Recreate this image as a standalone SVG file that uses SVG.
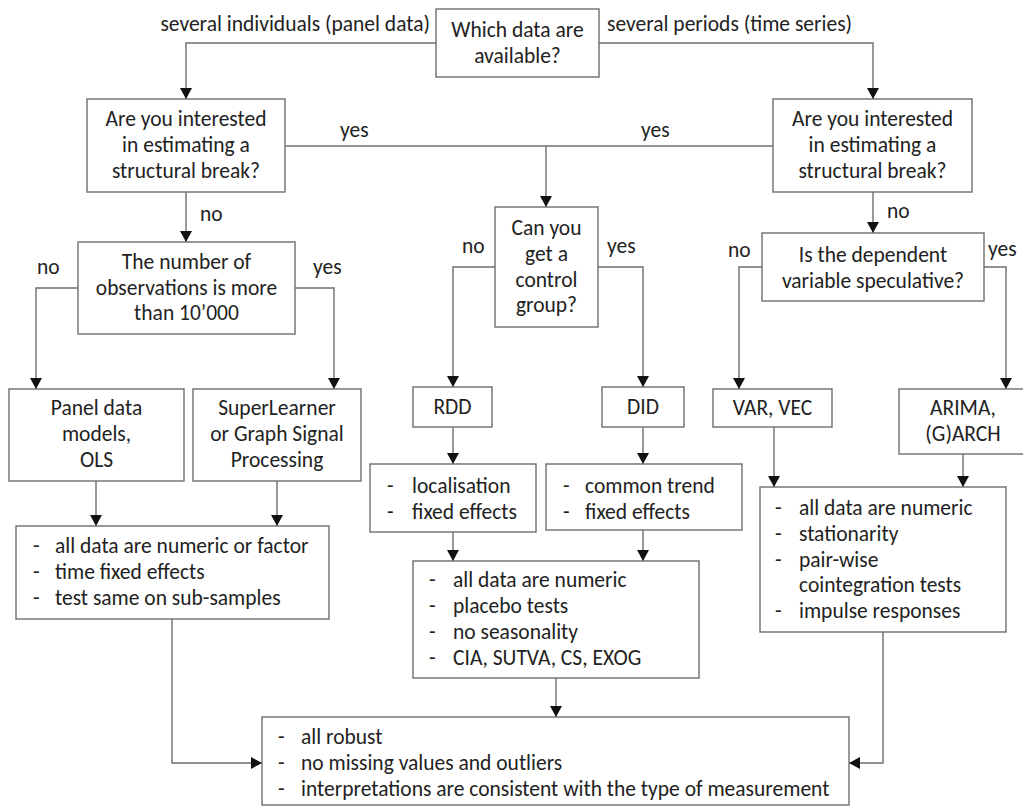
<svg xmlns="http://www.w3.org/2000/svg" width="1023" height="809" viewBox="0 0 1023 809">
<defs>
<marker id="ah" viewBox="0 0 11 12" refX="11" refY="6" markerWidth="11" markerHeight="12" markerUnits="userSpaceOnUse" orient="auto">
<path d="M0,0 L11,6 L0,12 z" fill="#111"/>
</marker>
<style>
.box{fill:#fff;stroke:#6e6e6e;stroke-width:1.4}
.t{font-family:Carlito,Lato,"Open Sans",sans-serif;font-size:21.5px;fill:#222}
.c{text-anchor:middle}
.e{text-anchor:end}
.ln{fill:none;stroke:#6e6e6e;stroke-width:1.4}
.ar{marker-end:url(#ah)}
</style>
</defs>
<rect width="1023" height="809" fill="#fff"/>
<g id="connectors">
<path class="ln ar" d="M436,43 H186 V99"/>
<path class="ln ar" d="M599,43 H873 V99"/>
<path class="ln" d="M285,146 H773"/>
<path class="ln ar" d="M546,146 V207"/>
<path class="ln ar" d="M186,192 V242"/>
<path class="ln ar" d="M78,288 H36 V389"/>
<path class="ln ar" d="M295,288 H334 V389"/>
<path class="ln ar" d="M96,481 V526"/>
<path class="ln ar" d="M277,481 V526"/>
<path class="ln ar" d="M172,619 V763 H262"/>
<path class="ln ar" d="M495,267 H453 V387"/>
<path class="ln ar" d="M598,267 H643 V387"/>
<path class="ln ar" d="M453,427 V464"/>
<path class="ln ar" d="M643,427 V464"/>
<path class="ln ar" d="M453,532 V561"/>
<path class="ln ar" d="M643,530 V561"/>
<path class="ln ar" d="M556,678 V717"/>
<path class="ln ar" d="M873,192 V233"/>
<path class="ln ar" d="M762,267 H739 V389"/>
<path class="ln ar" d="M984,267 H1006 V389"/>
<path class="ln ar" d="M774,427 V487"/>
<path class="ln ar" d="M963,454 V487"/>
<path class="ln ar" d="M883,632 V763 H849"/>
<text class="t e" x="430" y="31">several individuals (panel data)</text>
<text class="t" x="607" y="31">several periods (time series)</text>
<text class="t" x="340" y="137">yes</text>
<text class="t" x="641" y="137">yes</text>
<text class="t" x="200" y="221">no</text>
<text class="t" x="37" y="274">no</text>
<text class="t" x="313" y="274">yes</text>
<text class="t" x="462" y="253">no</text>
<text class="t" x="607" y="253">yes</text>
<text class="t" x="887" y="218">no</text>
<text class="t" x="728" y="257">no</text>
<text class="t" x="988" y="256">yes</text>
</g>
<g id="n-which">
<rect class="box" x="436" y="9" width="163" height="68"/>
<text class="t c" x="517.5" y="37">Which data are</text>
<text class="t c" x="517.5" y="63">available?</text>
</g>
<g id="n-break-panel">
<rect class="box" x="87" y="99" width="198" height="93"/>
<text class="t c" x="186" y="126">Are you interested</text>
<text class="t c" x="186" y="152">in estimating a</text>
<text class="t c" x="186" y="178">structural break?</text>
</g>
<g id="n-break-ts">
<rect class="box" x="773" y="99" width="199" height="93"/>
<text class="t c" x="872.5" y="126">Are you interested</text>
<text class="t c" x="872.5" y="152">in estimating a</text>
<text class="t c" x="872.5" y="178">structural break?</text>
</g>
<g id="n-obs">
<rect class="box" x="78" y="242" width="217" height="92"/>
<text class="t c" x="186.5" y="269">The number of</text>
<text class="t c" x="186.5" y="295">observations is more</text>
<text class="t c" x="186.5" y="320">than 10’000</text>
</g>
<g id="n-control">
<rect class="box" x="495" y="207" width="103" height="120"/>
<text class="t c" x="546.5" y="235">Can you</text>
<text class="t c" x="546.5" y="261">get a</text>
<text class="t c" x="546.5" y="287">control</text>
<text class="t c" x="546.5" y="312">group?</text>
</g>
<g id="n-speculative">
<rect class="box" x="762" y="233" width="222" height="68"/>
<text class="t c" x="873" y="262">Is the dependent</text>
<text class="t c" x="873" y="288">variable speculative?</text>
</g>
<g id="n-panel">
<rect class="box" x="9" y="389" width="175" height="92"/>
<text class="t c" x="96.5" y="415">Panel data</text>
<text class="t c" x="96.5" y="441">models,</text>
<text class="t c" x="96.5" y="467">OLS</text>
</g>
<g id="n-superlearner">
<rect class="box" x="193" y="389" width="168" height="92"/>
<text class="t c" x="277" y="415">SuperLearner</text>
<text class="t c" x="277" y="441">or Graph Signal</text>
<text class="t c" x="277" y="467">Processing</text>
</g>
<g id="n-rdd">
<rect class="box" x="413" y="387" width="79" height="40"/>
<text class="t c" x="452.5" y="414">RDD</text>
</g>
<g id="n-did">
<rect class="box" x="602" y="387" width="82" height="40"/>
<text class="t c" x="643" y="414">DID</text>
</g>
<g id="n-var">
<rect class="box" x="713" y="389" width="119" height="38"/>
<text class="t c" x="772.5" y="415">VAR, VEC</text>
</g>
<g id="n-arima">
<rect class="box" x="899" y="389" width="128" height="65"/>
<text class="t c" x="963" y="415">ARIMA,</text>
<text class="t c" x="963" y="441">(G)ARCH</text>
</g>
<g id="n-panel-checks">
<rect class="box" x="16" y="526" width="313" height="93"/>
<text class="t" x="33" y="553">-</text><text class="t" x="55" y="553">all data are numeric or factor</text>
<text class="t" x="33" y="579">-</text><text class="t" x="55" y="579">time fixed effects</text>
<text class="t" x="33" y="605">-</text><text class="t" x="55" y="605">test same on sub-samples</text>
</g>
<g id="n-rdd-checks">
<rect class="box" x="370" y="464" width="166" height="68"/>
<text class="t" x="387" y="493">-</text><text class="t" x="412" y="493">localisation</text>
<text class="t" x="387" y="519">-</text><text class="t" x="412" y="519">fixed effects</text>
</g>
<g id="n-did-checks">
<rect class="box" x="546" y="464" width="196" height="66"/>
<text class="t" x="563" y="493">-</text><text class="t" x="585" y="493">common trend</text>
<text class="t" x="563" y="519">-</text><text class="t" x="585" y="519">fixed effects</text>
</g>
<g id="n-causal-checks">
<rect class="box" x="413" y="561" width="286" height="117"/>
<text class="t" x="429" y="587">-</text><text class="t" x="453" y="587">all data are numeric</text>
<text class="t" x="429" y="613">-</text><text class="t" x="453" y="613">placebo tests</text>
<text class="t" x="429" y="639">-</text><text class="t" x="453" y="639">no seasonality</text>
<text class="t" x="429" y="665">-</text><text class="t" x="453" y="665">CIA, SUTVA, CS, EXOG</text>
</g>
<g id="n-ts-checks">
<rect class="box" x="760" y="487" width="246" height="145"/>
<text class="t" x="775" y="515">-</text><text class="t" x="799" y="515">all data are numeric</text>
<text class="t" x="775" y="541">-</text><text class="t" x="799" y="541">stationarity</text>
<text class="t" x="775" y="567">-</text><text class="t" x="799" y="567">pair-wise</text>
<text class="t" x="799" y="592">cointegration tests</text>
<text class="t" x="775" y="618">-</text><text class="t" x="799" y="618">impulse responses</text>
</g>
<g id="n-final">
<rect class="box" x="262" y="717" width="587" height="88"/>
<text class="t" x="278" y="744">-</text><text class="t" x="301" y="744">all robust</text>
<text class="t" x="278" y="770">-</text><text class="t" x="301" y="770">no missing values and outliers</text>
<text class="t" x="278" y="796">-</text><text class="t" x="301" y="796">interpretations are consistent with the type of measurement</text>
</g>
</svg>
